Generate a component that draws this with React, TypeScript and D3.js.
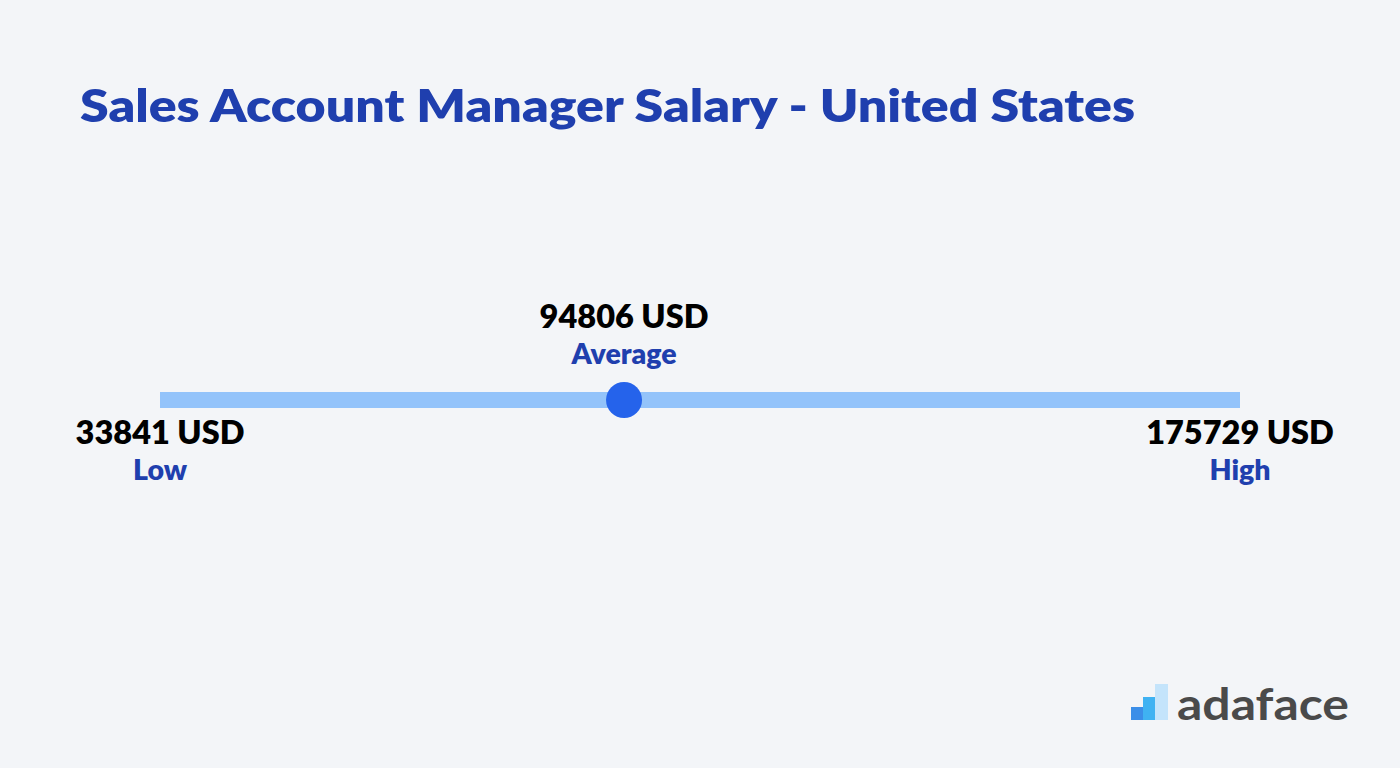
import React from "react";
import * as d3 from "d3";

const W = 1400;
const H = 768;
const title = "Sales Account Manager Salary - United States";
const pointNames = ["Low", "Average", "High"];
const pointValues = [33841, 94806, 175729];
const unit = "USD";
const brand = "adaface";

const FONT = "'Lato', 'Noto Sans', sans-serif";

export default function App() {
  const lo = pointValues[0];
  const hi = pointValues[2];
  const x = d3.scaleLinear().domain([lo, hi]).range([160, 1240]);
  const barY = 400;
  return (
    <svg width={W} height={H} style={{ position: "absolute", left: 0, top: 0, display: "block" }}>
      <rect x={0} y={0} width={W} height={H} fill="#f3f5f8" />
      <text x={80} y={122} fontFamily={FONT} fontWeight={800} fontSize={46} fill="#1f3fae" textLength={1055} lengthAdjust="spacingAndGlyphs">
        {title}
      </text>
      <line x1={x(lo)} x2={x(hi)} y1={barY} y2={barY} stroke="#93c3fa" strokeWidth={16} />
      <circle cx={x(pointValues[1])} cy={barY} r={18} fill="#2563eb" />
      {pointValues.map((v, i) => {
        const cx = x(v);
        const above = i === 1;
        const vy = above ? 328 : 444;
        const ly = above ? 364 : 480;
        return (
          <g key={i}>
            <text x={cx} y={vy} textAnchor="middle" fontFamily={FONT} fontWeight={800} fontSize={32.5} fill="#000">
              {`${v} ${unit}`}
            </text>
            <text x={cx} y={ly} textAnchor="middle" fontFamily={FONT} fontWeight={800} fontSize={28.5} fill="#1f3fae">
              {pointNames[i]}
            </text>
          </g>
        );
      })}
      <g>
        <rect x={1131} y={707} width={12} height={13} fill="#3b8ee8" />
        <rect x={1143} y={697} width={12} height={23} fill="#3fb2f2" />
        <rect x={1155} y={684} width={13} height={36} fill="#c4e4fb" />
        <text x={1177} y={720} fontFamily={FONT} fontWeight={700} fontSize={44} fill="#4a4a4a" textLength={172} lengthAdjust="spacingAndGlyphs">
          {brand}
        </text>
      </g>
    </svg>
  );
}
